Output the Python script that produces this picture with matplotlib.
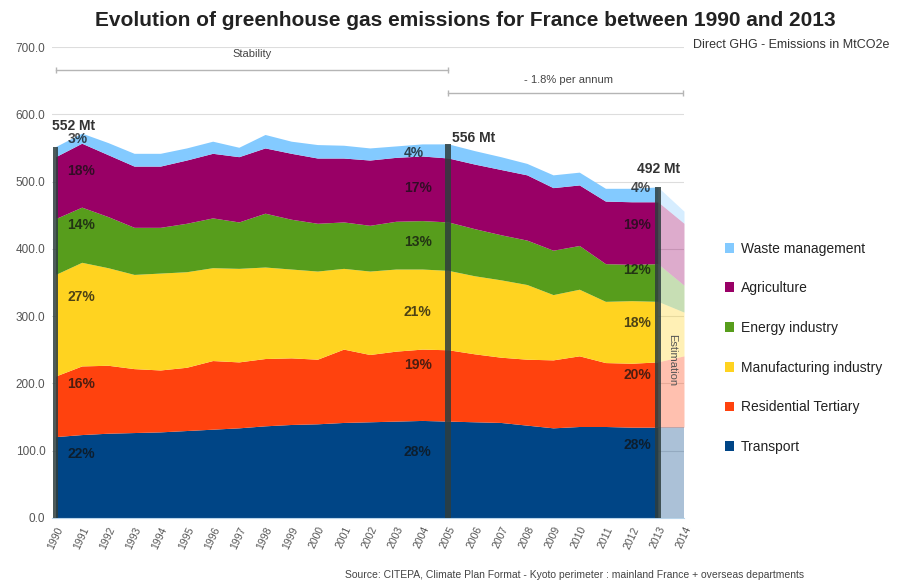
import matplotlib
matplotlib.use("Agg")
import matplotlib.pyplot as plt
import numpy as np
from matplotlib.patches import Patch

plt.rcParams['font.family'] = ['Liberation Sans', 'DejaVu Sans']

years = list(range(1990, 2015))
transport     = [121,124,126,127,128,130,132,134,137,139,140,142,143,144,145,144,143,142,138,134,136,136,135,135,135]
residential   = [ 90,102,101, 95, 92, 94,102, 98,100, 99, 96,109,100,104,106,106,101, 97, 98,101,105, 95, 95, 97,106]
manufacturing = [151,154,145,140,144,142,138,139,136,132,131,120,124,122,119,118,116,115,111, 97, 99, 91, 93, 90, 65]
energy        = [ 83, 82, 76, 70, 68, 72, 74, 69, 80, 74, 71, 69, 68, 71, 72, 72, 70, 67, 66, 66, 65, 56, 54, 56, 40]
agriculture   = [ 92, 95, 92, 91, 91, 94, 96, 97, 97, 98, 97, 95, 97, 95, 96, 95, 96, 97, 97, 93, 90, 93, 93, 92, 92]
waste         = [ 15, 15, 18, 19, 19, 18, 18, 14, 20, 18, 20, 19, 18, 17, 18, 21, 20, 19, 17, 19, 19, 19, 20, 22, 18]

series_names = ["Transport", "Residential Tertiary", "Manufacturing industry",
                "Energy industry", "Agriculture", "Waste management"]
colors = ["#004586", "#ff420e", "#ffd320", "#579d1c", "#990066", "#83caff"]

bar_years = [1990, 2005, 2013]
bar_totals = [552, 556, 492]
bar_labels = ["552 Mt", "556 Mt", "492 Mt"]

pct_1990 = ["22%", "16%", "27%", "14%", "18%", "3%"]
pct_2005 = ["28%", "19%", "21%", "13%", "17%", "4%"]
pct_2013 = ["28%", "20%", "18%", "12%", "19%", "4%"]
pct_y_1990 = [95, 199, 328, 435, 515, 563]
pct_y_2005 = [98, 227, 306, 410, 490, 542]
pct_y_2013 = [108, 213, 290, 368, 435, 490]

fig = plt.figure(figsize=(8.98, 5.81), dpi=100)
ax = fig.add_axes([52.4/898, 63/581, (684-52.4)/898, (518-47)/581])

data = np.array([transport, residential, manufacturing, energy, agriculture, waste], dtype=float)
yrs = np.array(years)
cum = np.vstack([np.zeros(len(years)), np.cumsum(data, axis=0)])

solid = yrs <= 2013
est = yrs >= 2013
for i in range(6):
    ax.fill_between(yrs[solid], cum[i][solid], cum[i+1][solid], color=colors[i], lw=0, zorder=2)
    ax.fill_between(yrs[est], cum[i][est], cum[i+1][est], color=colors[i], alpha=0.33, lw=0, zorder=2)

for by, bt in zip(bar_years, bar_totals):
    ax.bar(by, bt, width=0.22, color="#2e3d3d", alpha=0.85, zorder=3)

ax.text(1989.88, 582, bar_labels[0], fontsize=10, fontweight='bold', color="#333333", ha='left', va='center')
ax.text(2005.15, 565, bar_labels[1], fontsize=10, fontweight='bold', color="#333333", ha='left', va='center')
ax.text(2012.2, 518, bar_labels[2], fontsize=10, fontweight='bold', color="#333333", ha='left', va='center')

for lab, y in zip(pct_1990, pct_y_1990):
    ax.text(1990.46, y, lab, fontsize=10, fontweight='bold', color="#111111", alpha=0.75, ha='left', va='center', zorder=4)
for lab, y in zip(pct_2005, pct_y_2005):
    ax.text(2003.3, y, lab, fontsize=10, fontweight='bold', color="#111111", alpha=0.75, ha='left', va='center', zorder=4)
for lab, y in zip(pct_2013, pct_y_2013):
    ax.text(2012.75, y, lab, fontsize=10, fontweight='bold', color="#111111", alpha=0.75, ha='right', va='center', zorder=4)

ax.text(2013.55, 235, "Estimation", rotation=270, fontsize=8, color="#555555", ha='center', va='center', zorder=4)

# period annotations
ax.plot([1990, 2005], [666, 666], color="#b5b5b5", lw=1, marker='|', markersize=5, zorder=2)
ax.text(1997.5, 689, "Stability", fontsize=8, color="#444444", ha='center', va='center')
ax.plot([2005, 2013.95], [631, 631], color="#b5b5b5", lw=1, marker='|', markersize=5, zorder=2)
ax.text(2009.6, 651, "- 1.8% per annum", fontsize=8, color="#444444", ha='center', va='center')

ax.set_xlim(1989.88, 2014)
ax.set_ylim(0, 700)
ax.set_yticks(np.arange(0, 701, 100))
ax.set_yticklabels([f"{v:.1f}" for v in np.arange(0, 701, 100)], fontsize=8.5, color="#555555")
ax.set_xticks(years)
ax.set_xticklabels([str(y) for y in years], rotation=65, fontsize=7.5, color="#555555",
                   ha='right', rotation_mode='anchor')
ax.tick_params(axis='both', length=0, pad=5)
ax.grid(axis='y', color="#dddddd", lw=0.8, zorder=0)
ax.set_axisbelow(True)
for s in ["top", "right", "left"]:
    ax.spines[s].set_visible(False)
ax.spines["bottom"].set_color("#b8d4ea")

handles = [Patch(facecolor=c, edgecolor='none') for c in colors[::-1]]
fig.legend(handles, series_names[::-1], loc='upper left', bbox_to_anchor=(712/898, 1 - 229/581),
           frameon=False, fontsize=10, handlelength=0.7, handleheight=0.7, handletextpad=0.5,
           labelspacing=1.85, labelcolor="#222222")

fig.text(465/898, 1 - 20/581, "Evolution of greenhouse gas emissions for France between 1990 and 2013",
         fontsize=15, fontweight='bold', color="#222222", ha='center', va='center')
fig.text(693/898, 1 - 45/581, "Direct GHG - Emissions in MtCO2e", fontsize=9, color="#333333",
         ha='left', va='center')
fig.text(575/898, 1 - 575/581,
         "Source: CITEPA, Climate Plan Format - Kyoto perimeter : mainland France + overseas departments",
         fontsize=7.5, color="#444444", ha='center', va='center')

fig.savefig("out.png", dpi=100)
